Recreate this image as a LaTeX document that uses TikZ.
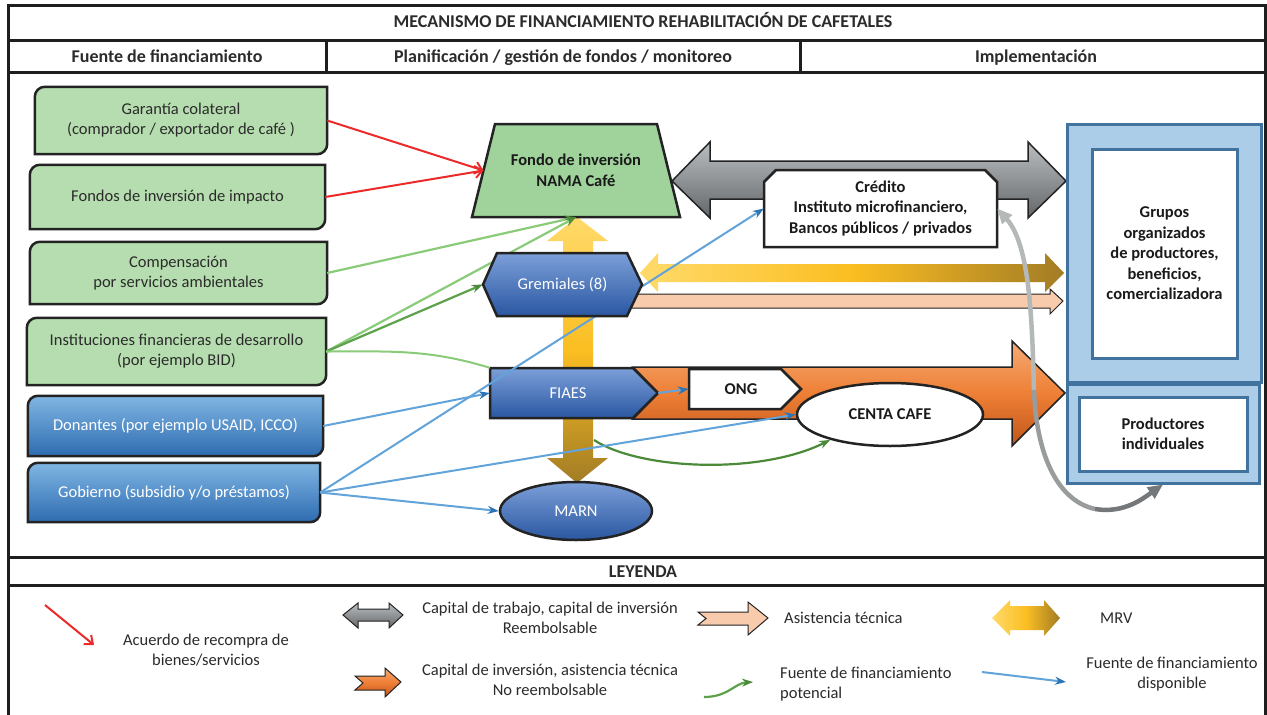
\documentclass[tikz,border=0pt]{standalone}
\usepackage{fontspec}
\setmainfont{Carlito}
\usetikzlibrary{arrows.meta,shapes.geometric}
\pgfdeclarelayer{bgl}
\pgfdeclarelayer{back}
\pgfdeclarelayer{shp}
\pgfdeclarelayer{front}
\pgfsetlayers{bgl,back,shp,main,front}
\definecolor{framec}{HTML}{1E1E1E}
\definecolor{txtc}{HTML}{2B2B2B}
\definecolor{btc}{HTML}{1A1A1A}
\definecolor{boxline}{HTML}{232323}
\definecolor{boxgreen}{HTML}{B6DDAF}
\definecolor{namagreen}{HTML}{9FD39B}
\definecolor{lbtop}{HTML}{80B6E3}
\definecolor{lbbot}{HTML}{2E6CB1}
\definecolor{dbtop}{HTML}{7C9FD8}
\definecolor{dbbot}{HTML}{2A57A2}
\definecolor{grayA}{HTML}{BBBEC0}
\definecolor{grayB}{HTML}{63676A}
\definecolor{ylA}{HTML}{FFDA6A}
\definecolor{ylB}{HTML}{FBBE22}
\definecolor{ylC}{HTML}{A27C25}
\definecolor{orA}{HTML}{F5AA75}
\definecolor{orB}{HTML}{EE7F35}
\definecolor{orC}{HTML}{C0561B}
\definecolor{salm}{HTML}{F8CBAD}
\definecolor{lblue}{HTML}{ABCDE8}
\definecolor{sblue}{HTML}{42729E}
\definecolor{redc}{HTML}{EC2A2A}
\definecolor{bluL}{HTML}{62A3DA}
\definecolor{bluD}{HTML}{2C74B5}
\definecolor{grnA}{HTML}{8ACB79}
\definecolor{grnB}{HTML}{5DA24A}
\definecolor{grnC}{HTML}{4A8A38}
\definecolor{gcA}{HTML}{B5B8B9}
\definecolor{gcB}{HTML}{999C9D}
\definecolor{gcC}{HTML}{75787A}
\tikzset{
  frame/.style={line width=3pt, draw=framec},
  hdr/.style={font=\fontsize{18}{20}\selectfont\bfseries, text=txtc, text height=12.5pt, text depth=3.5pt},
  txt/.style={font=\fontsize{16.5}{20}\selectfont, align=center, text=txtc, inner sep=0pt},
  btxt/.style={font=\fontsize{16.5}{20.5}\selectfont\bfseries, align=center, text=btc, inner sep=0pt},
  wtxt/.style={font=\fontsize{16.5}{20}\selectfont, align=center, text=white, inner sep=0pt},
  shpline/.style={draw=boxline, line width=2.5pt},
  redarr/.style={draw=redc, line width=2pt, -{Straight Barb[length=7pt,width=12pt]}},
  bluarr/.style={draw=bluL, line width=2pt, -{Stealth[length=11pt,width=8pt,color=bluD]}},
  grnarr/.style={draw=grnA, line width=2.2pt, -{Stealth[length=11pt,width=8pt,color=grnC]}},
  gcurve/.style={line width=4.5pt},
}
\newcommand\leafbox[2]{%
  \path[#2, shpline] (#1.north east) -- ([yshift=10pt]#1.south east)
    arc[start angle=0,end angle=-90,radius=10pt] -- (#1.south west)
    -- ([yshift=-10pt]#1.north west) arc[start angle=180,end angle=90,radius=10pt] -- cycle;}
\begin{document}
\begin{tikzpicture}[x=1pt,y=1pt]
\useasboundingbox (0,0) rectangle (1267,-715);
\begin{pgfonlayer}{bgl}
\fill[white] (0,0) rectangle (1267,-715);
\end{pgfonlayer}

% ---------- frame ----------
\draw[frame] (8,-716) -- (8,-5) -- (1265.5,-5) -- (1265.5,-716);
\draw[frame] (8,-40) -- (1265.5,-40);
\draw[frame] (8,-72) -- (1265.5,-72);
\draw[frame] (326,-40) -- (326,-72);
\draw[frame] (800,-40) -- (800,-72);
\draw[frame] (8,-557) -- (1265.5,-557);
\draw[frame] (8,-585) -- (1265.5,-585);

\node[hdr] (title) at (643,-23) {MECANISMO DE FINANCIAMIENTO REHABILITACIÓN DE CAFETALES};
\node[hdr] (h1) at (167,-57.5) {Fuente de financiamiento};
\node[hdr] (h2) at (563,-57.5) {Planificación / gestión de fondos / monitoreo};
\node[hdr] (h3) at (1036,-57.5) {Implementación};
\node[hdr] (ley) at (643,-572.5) {LEYENDA};

% ---------- big block arrows ----------
\begin{pgfonlayer}{back}
\path[top color=grayA, bottom color=grayB, draw=boxline, line width=1.5pt]
  (672,-181) -- (710,-142) -- (710,-161) -- (1028,-161) -- (1028,-142) -- (1066,-181)
  -- (1028,-218) -- (1028,-199) -- (710,-199) -- (710,-218) -- cycle;
\path[top color=ylA, bottom color=ylC, middle color=ylB]
  (577,-217) -- (608,-241) -- (593,-241) -- (593,-458) -- (608,-458) -- (577,-483)
  -- (547,-458) -- (563,-458) -- (563,-241) -- (547,-241) -- cycle;
\path[left color=ylA, right color=ylC, middle color=ylB]
  (640,-273) -- (658,-253) -- (658,-264) -- (1045,-264) -- (1045,-253) -- (1064,-273)
  -- (1045,-292) -- (1045,-282) -- (658,-282) -- (658,-292) -- cycle;
\path[fill=salm, draw=boxline, line width=1pt]
  (630,-294) -- (1050,-294) -- (1050,-289) -- (1063,-301) -- (1050,-314) -- (1050,-308) -- (630,-308) -- cycle;
\path[top color=orA, bottom color=orC, middle color=orB, draw=boxline, line width=1.5pt]
  (633,-367) -- (1012,-367) -- (1012,-341) -- (1065,-393) -- (1012,-446) -- (1012,-419)
  -- (633,-419) -- (658,-393) -- cycle;
\end{pgfonlayer}

% ---------- left column ----------
\node[txt, minimum width=292pt, minimum height=67pt] (g1) at (181,-120.5) {Garantía colateral\\(comprador / exportador de café )};
\node[txt, minimum width=295pt, minimum height=64pt] (g2) at (177.5,-197) {Fondos de inversión de impacto};
\node[txt, minimum width=297pt, minimum height=62pt] (g3) at (178.5,-273) {Compensación\\por servicios ambientales};
\node[txt, minimum width=299pt, minimum height=67pt] (g4) at (176.5,-351.5) {Instituciones financieras de desarrollo\\(por ejemplo BID)};
\node[wtxt, minimum width=295pt, minimum height=60pt] (b1) at (175.5,-426) {Donantes (por ejemplo USAID, ICCO)};
\node[wtxt, minimum width=292pt, minimum height=59pt] (b2) at (174,-492.5) {Gobierno (subsidio y/o préstamos)};

% ---------- centre ----------
\node[btxt, minimum width=208pt, minimum height=93pt] (nama) at (576,-170.5) {Fondo de inversión\\NAMA Café};
\coordinate (namaL) at (483.5,-170.5);
\node[btxt, minimum width=233pt, minimum height=77pt] (cred) at (880.5,-208.5) {Crédito\\Instituto microfinanciero,\\Bancos públicos / privados};
\node[wtxt, minimum width=168pt, minimum height=50pt] (fiaes) at (574,-393) {FIAES\hspace*{12pt}};
\node[btxt, minimum width=112pt, minimum height=40pt] (ong) at (745,-389) {ONG\hspace*{8pt}};
\node[btxt, ellipse, draw=boxline, line width=2.5pt, fill=white, minimum width=186pt, minimum height=63pt] (centa) at (890,-414.5) {CENTA CAFE};
\node[wtxt, ellipse, draw=boxline, line width=2.5pt, top color=dbtop, bottom color=dbbot, minimum width=152pt, minimum height=58pt] (marn) at (576,-511) {MARN};

\begin{pgfonlayer}{front}
\path[top color=dbtop, bottom color=dbbot, shpline]
  (483,-284.5) -- (497,-253) -- (627,-253) -- (642,-284.5) -- (627,-316) -- (497,-316) -- cycle;
\node[wtxt, minimum width=159pt, minimum height=63pt] (gre) at (562.5,-284.5) {Gremiales (8)};
\end{pgfonlayer}

% ---------- right column ----------
\node[draw=sblue, line width=3pt, fill=lblue, minimum width=194pt, minimum height=258pt, inner sep=0pt] (grpo) at (1164,-253) {};
\node[btxt, draw=sblue, line width=3pt, fill=white, minimum width=145pt, minimum height=209pt] (grpi) at (1164.5,-253.5) {Grupos\\organizados\\de productores,\\beneficios,\\comercializadora};
\node[draw=sblue, line width=3pt, fill=lblue, minimum width=192pt, minimum height=99pt, inner sep=0pt] (prodo) at (1163,-433.5) {};
\node[btxt, draw=sblue, line width=3pt, fill=white, minimum width=168pt, minimum height=74pt] (prodi) at (1163,-434) {Productores\\individuales};

% ---------- node shapes ----------
\begin{pgfonlayer}{shp}
\leafbox{g1}{fill=boxgreen}
\leafbox{g2}{fill=boxgreen}
\leafbox{g3}{fill=boxgreen}
\leafbox{g4}{fill=boxgreen}
\leafbox{b1}{top color=lbtop, bottom color=lbbot}
\leafbox{b2}{top color=lbtop, bottom color=lbbot}
\path[fill=namagreen, shpline] (472,-217) -- (495,-124) -- (657,-124) -- (680,-217) -- cycle;
\path[fill=white, shpline] (764,-247) -- (764,-182) -- (776,-170) -- (985,-170) -- (997,-182) -- (997,-247) -- cycle;
\path[top color=dbtop, bottom color=dbbot, shpline]
  (490,-368) -- (633,-368) -- (658,-393) -- (633,-418) -- (490,-418) -- cycle;
\path[fill=white, shpline] (689,-369) -- (781,-369) -- (801,-389) -- (781,-409) -- (689,-409) -- cycle;
\end{pgfonlayer}

% ---------- connectors ----------
\draw[redarr] (g1.east) -- (namaL);
\draw[redarr] (g2.east) -- (namaL);
\draw[grnarr] (g3.east) -- (nama.south);
\draw[grnarr] (g4.east) -- (nama.south);
\draw[grnarr, draw=grnB] (g4.east) -- (gre.west);
\draw[draw=grnA, line width=2pt] (g4.east) to[out=0,in=163] (fiaes.north west);
\coordinate (gstart) at (594,-440);
\draw[grnarr, draw=grnC] (gstart) .. controls (640,-470) and (760,-475) .. (centa.203);
\draw[bluarr] (b1.east) -- (fiaes.west);
\draw[bluarr] (b2.east) -- (cred.west);
\draw[bluarr] (b2.east) -- (centa.west);
\draw[bluarr] (b2.east) -- (marn.west);
\draw[bluarr] (fiaes.east) -- (ong.west);
\coordinate (gc1) at (1034,-390);
\coordinate (gc2) at (1095,-509);
\draw[gcurve, draw=gcA, {Triangle[length=15pt,width=13pt]}-] (cred.east) .. controls (1030,-245) and (1032,-320) .. (gc1);
\draw[gcurve, draw=gcB] (gc1) .. controls (1036,-450) and (1055,-500) .. (gc2);
\draw[gcurve, draw=gcC, -{Triangle[length=15pt,width=13pt]}] (gc2) .. controls (1125,-514) and (1145,-497) .. (prodo.south);

% ---------- legend ----------
\coordinate (lr1) at (45,-605);
\coordinate (lr2) at (94,-645);
\draw[redarr] (lr1) -- (lr2);
\node[txt] (lt1) at (206,-650) {Acuerdo de recompra de\\bienes/servicios};

\path[top color=grayA, bottom color=grayB, draw=boxline, line width=1pt]
  (343,-615) -- (358,-603) -- (358,-609) -- (389,-609) -- (389,-603) -- (403,-615)
  -- (389,-628) -- (389,-621) -- (358,-621) -- (358,-628) -- cycle;
\node[txt] (lt2) at (550,-618) {Capital de trabajo, capital de inversión\\Reembolsable};

\path[top color=orA, bottom color=orC, middle color=orB, draw=boxline, line width=1pt]
  (355,-676) -- (385,-676) -- (385,-668) -- (401,-682) -- (385,-697) -- (385,-690)
  -- (355,-690) -- (363,-683) -- cycle;
\node[txt] (lt3) at (550,-680) {Capital de inversión, asistencia técnica\\No reembolsable};

\path[fill=salm, draw=boxline, line width=1pt]
  (698,-612) -- (748,-612) -- (748,-602) -- (768,-618) -- (748,-635) -- (748,-625)
  -- (698,-625) -- (706,-618.5) -- cycle;
\node[txt, anchor=west] (lt4) at (784,-618) {Asistencia técnica};

\path[left color=ylA, right color=ylC, middle color=ylB]
  (992,-618) -- (1010,-600) -- (1010,-606) -- (1044,-606) -- (1044,-600) -- (1060,-618)
  -- (1044,-636) -- (1044,-630) -- (1010,-630) -- (1010,-636) -- cycle;
\node[txt, anchor=west] (lt5) at (1100,-618) {MRV};

\coordinate (lg1) at (704,-697);
\coordinate (lg2) at (753,-682);
\draw[grnarr, draw=grnB] (lg1) .. controls (728,-697) and (735,-683) .. (lg2);
\node[txt, align=left, anchor=west] (lt6) at (780,-684) {Fuente de financiamiento\\potencial};

\coordinate (lb1) at (982,-672);
\coordinate (lb2) at (1066,-682);
\draw[bluarr] (lb1) -- (lb2);
\node[txt] (lt7) at (1172,-674) {Fuente de financiamiento\\disponible};
\end{tikzpicture}
\end{document}
